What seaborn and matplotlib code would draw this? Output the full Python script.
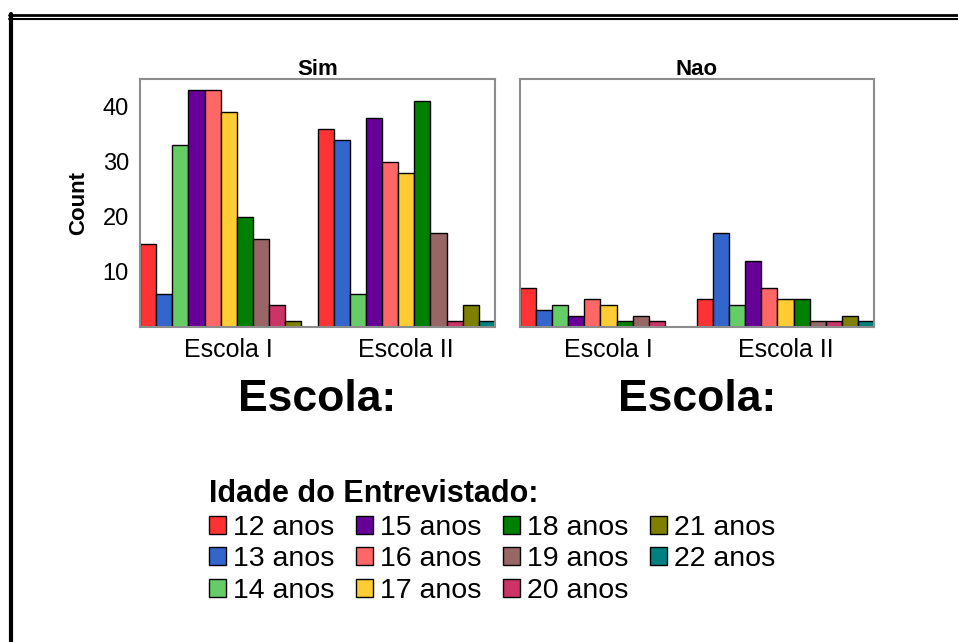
import matplotlib
matplotlib.use("Agg")
import matplotlib.pyplot as plt
from matplotlib.lines import Line2D
import seaborn as sns
import pandas as pd

# Age groups (hue) and schools (x categories)
ages = ["12 anos", "13 anos", "14 anos", "15 anos", "16 anos", "17 anos",
        "18 anos", "19 anos", "20 anos", "21 anos", "22 anos"]
schools = ["Escola I", "Escola II"]
panels = ["Sim", "Nao"]

# Counts per age group, one list per panel and school
sim_escola_1 = [15, 6, 33, 43, 43, 39, 20, 16, 4, 1, 0]
sim_escola_2 = [36, 34, 6, 38, 30, 28, 41, 17, 1, 4, 1]
nao_escola_1 = [7, 3, 4, 2, 5, 4, 1, 2, 1, 0, 0]
nao_escola_2 = [5, 17, 4, 12, 7, 5, 5, 1, 1, 2, 1]

y_ticks = [10, 20, 30, 40]

age_colors = ["#FF3333", "#3366CC", "#66CC66", "#660099", "#FF6666", "#FFCC33",
              "#008000", "#996666", "#CC3366", "#808000", "#008080"]

counts = {
    ("Sim", "Escola I"): sim_escola_1,
    ("Sim", "Escola II"): sim_escola_2,
    ("Nao", "Escola I"): nao_escola_1,
    ("Nao", "Escola II"): nao_escola_2,
}

rows = []
for (panel, school), values in counts.items():
    for age, n in zip(ages, values):
        if n > 0:
            rows.append({"panel": panel, "Escola": school, "Idade": age, "Count": n})
df = pd.DataFrame(rows)

sns.set_theme(style="white")
plt.rcParams["font.family"] = ["Liberation Sans", "DejaVu Sans"]
plt.rcParams.update({"text.color": "black", "axes.labelcolor": "black",
                     "xtick.color": "black", "ytick.color": "black"})

W, H = 958, 642
fig = plt.figure(figsize=(W / 100, H / 100), dpi=100)
fig.patch.set_facecolor("white")

def frac_box(x0, y0, x1, y1):
    return [x0 / W, 1 - y1 / H, (x1 - x0) / W, (y1 - y0) / H]

ax_sim = fig.add_axes(frac_box(140, 79, 495, 327))
ax_nao = fig.add_axes(frac_box(520, 79, 874, 327))

palette = dict(zip(ages, age_colors))
for ax, panel in zip([ax_sim, ax_nao], panels):
    sub = df[df["panel"] == panel]
    sns.barplot(data=sub, x="Escola", y="Count", hue="Idade",
                order=schools, hue_order=ages, palette=palette,
                width=1.0, gap=0, errorbar=None, dodge=True,
                edgecolor="black", linewidth=1.0, saturation=1.0,
                legend=(ax is ax_sim), ax=ax)
    ax.set_xlim(-0.5, 1.5)
    ax.set_ylim(0, 45)
    ax.set_yticks(y_ticks)
    ax.set_title(panel, fontsize=16, fontweight="bold", pad=3)
    ax.set_xlabel("Escola:", fontsize=32, fontweight="bold", labelpad=12)
    for sp in ax.spines.values():
        sp.set_color("#8C8C8C")
        sp.set_linewidth(1.5)
    ax.tick_params(axis="both", which="major", direction="out", color="black",
                   length=5, width=2.2, labelsize=17, pad=3)
    ax.tick_params(axis="x", labelsize=18)

ax_sim.set_ylabel("Count", fontsize=16, fontweight="bold", labelpad=10)
ax_nao.set_ylabel("")
ax_nao.tick_params(axis="y", labelleft=False)

handles, labels = ax_sim.get_legend_handles_labels()
ax_sim.get_legend().remove()
fig.legend(handles, labels, title="Idade do Entrevistado:", ncol=4,
           loc="upper left", bbox_to_anchor=(209 / W, 1 - 479 / H),
           frameon=False, fontsize=20.5, title_fontproperties={"weight": "bold", "size": 22},
           alignment="left", handlelength=0.6, handleheight=0.6,
           handletextpad=0.25, columnspacing=0.75, labelspacing=0.2,
           borderpad=0, borderaxespad=0)

# Page border: double rule at the top, heavy rule down the left side
fig.add_artist(Line2D([9 / W, 1], [1 - 15 / H, 1 - 15 / H], color="black", lw=2.0))
fig.add_artist(Line2D([9 / W, 1], [1 - 18.5 / H, 1 - 18.5 / H], color="black", lw=1.5))
fig.add_artist(Line2D([11 / W, 11 / W], [1 - 14 / H, 0], color="black", lw=3))

fig.savefig("out.png", dpi=100, facecolor="white")
